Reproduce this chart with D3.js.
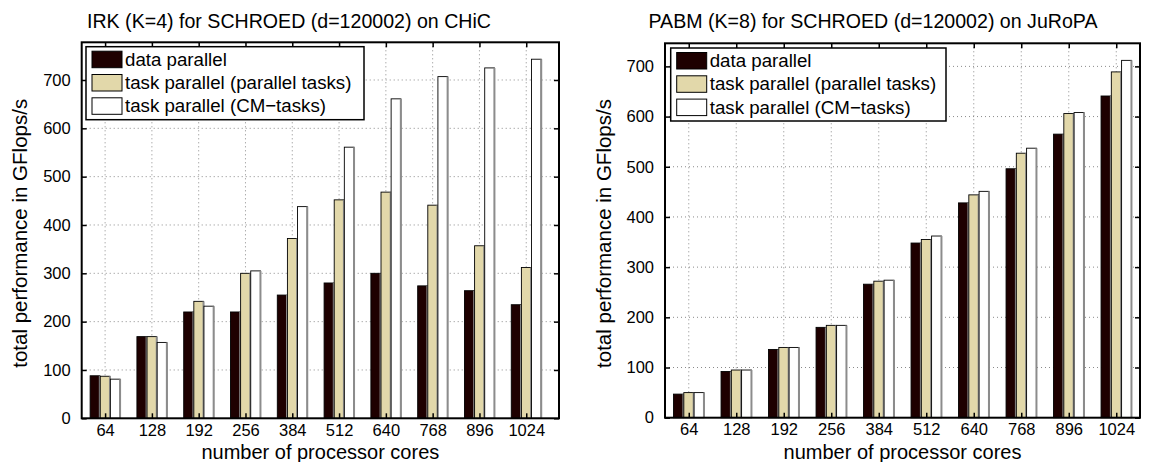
<!DOCTYPE html>
<html>
<head>
<meta charset="utf-8">
<script src="https://cdn.jsdelivr.net/npm/d3@7"></script>
<style>
  body { margin: 0; background: #fff; }
  svg { font-family: "Liberation Sans", Arial, sans-serif; }
</style>
</head>
<body>
<svg id="chart" width="1155" height="462"></svg>
<script>
// Categories and tick labels
var cores = ["64", "128", "192", "256", "384", "512", "640", "768", "896", "1024"];
var yTicks = [0, 100, 200, 300, 400, 500, 600, 700];
var seriesNames = ["data parallel", "task parallel (parallel tasks)", "task parallel (CM\u2212tasks)"];

// IRK on CHiC
var irkData = [88, 169, 220, 220, 255, 280, 300, 274, 264, 235];
var irkTask = [87, 169, 242, 300, 372, 452, 468, 441, 357, 312];
var irkCm = [81, 157, 232, 305, 438, 561, 661, 707, 725, 743];

// PABM on JuRoPA
var pabmData = [47, 92, 136, 180, 266, 348, 428, 496, 565, 641];
var pabmTask = [50, 95, 140, 184, 272, 355, 444, 527, 606, 689];
var pabmCm = [50, 95, 140, 184, 274, 362, 451, 537, 608, 712];

var fills = ["#1e0000", "#e2d8aa", "#ffffff"];

var svg = d3.select("#chart");

function drawPanel(opt) {
  var g = svg.append("g");

  var x = d3.scaleLinear().domain(opt.xDomain).range([opt.left, opt.right]);
  var y = d3.scaleLinear().domain([0, opt.yMax]).range([opt.bottom, opt.top]);
  var step = x(2) - x(1);

  // sub-position of each series inside a group (in index units)
  var sub = d3.scaleBand().domain([0, 1, 2]).range([-0.32, 0.32]).paddingInner(0.04);

  // Gridlines (dotted)
  g.append("g")
    .selectAll("line.vgrid")
    .data(d3.range(1, 11))
    .enter()
    .append("line")
    .attr("x1", function(d) { return x(d); })
    .attr("x2", function(d) { return x(d); })
    .attr("y1", opt.top)
    .attr("y2", opt.bottom)
    .attr("stroke", "#8a8a8a")
    .attr("stroke-width", 1)
    .attr("stroke-dasharray", "1,3");

  g.append("g")
    .selectAll("line.hgrid")
    .data(yTicks.slice(1))
    .enter()
    .append("line")
    .attr("x1", opt.left)
    .attr("x2", opt.right)
    .attr("y1", function(d) { return y(d); })
    .attr("y2", function(d) { return y(d); })
    .attr("stroke", "#8a8a8a")
    .attr("stroke-width", 1)
    .attr("stroke-dasharray", "1,3");

  // Bars
  opt.series.forEach(function(values, s) {
    var bw = sub.bandwidth() * step;
    var bars = g.append("g").selectAll("g").data(values).enter().append("g");
    bars.append("rect")
      .attr("x", function(d, i) { return x(i + 1 + sub(s)); })
      .attr("y", function(d) { return y(d); })
      .attr("width", bw)
      .attr("height", function(d) { return opt.bottom - y(d); })
      .attr("fill", fills[s])
      .attr("stroke", "#000")
      .attr("stroke-width", 0.9);
    // grey shadow edge on the right side
    bars.append("line")
      .attr("x1", function(d, i) { return x(i + 1 + sub(s)) + bw; })
      .attr("x2", function(d, i) { return x(i + 1 + sub(s)) + bw; })
      .attr("y1", function(d) { return y(d); })
      .attr("y2", opt.bottom)
      .attr("stroke", "#8c8c8c")
      .attr("stroke-width", 2);
  });

  // Axes with inward ticks
  var xAxis = d3.axisBottom(x)
    .tickValues(d3.range(1, 11))
    .tickFormat(function(d) { return cores[d - 1]; })
    .tickSizeInner(-5)
    .tickSizeOuter(0)
    .tickPadding(6);
  var gx = g.append("g")
    .attr("transform", "translate(0," + opt.bottom + ")")
    .call(xAxis);
  gx.selectAll("text").style("font-size", "16.5px").attr("fill", "#000");

  var yAxis = d3.axisLeft(y)
    .tickValues(yTicks)
    .tickSizeInner(-5)
    .tickSizeOuter(0)
    .tickPadding(11);
  var gy = g.append("g")
    .attr("transform", "translate(" + opt.left + ",0)")
    .call(yAxis);
  gy.selectAll("text").style("font-size", "16.5px").attr("fill", "#000");

  g.append("g")
    .attr("transform", "translate(0," + opt.top + ")")
    .call(d3.axisTop(x).tickValues(d3.range(1, 11)).tickSizeInner(-5).tickSizeOuter(0).tickFormat(""));
  g.append("g")
    .attr("transform", "translate(" + opt.right + ",0)")
    .call(d3.axisRight(y).tickValues(yTicks).tickSizeInner(-5).tickSizeOuter(0).tickFormat(""));

  g.selectAll(".domain").remove();
  g.selectAll(".tick line").attr("stroke", "#000").attr("stroke-width", 1.5);

  // Box
  g.append("rect")
    .attr("x", opt.left)
    .attr("y", opt.top)
    .attr("width", opt.right - opt.left)
    .attr("height", opt.bottom - opt.top)
    .attr("fill", "none")
    .attr("stroke", "#000")
    .attr("stroke-width", 2);

  // Legend
  var lg = g.append("g").attr("transform", "translate(" + opt.legendX + "," + opt.legendY + ")");
  lg.append("rect")
    .attr("width", opt.legendW)
    .attr("height", 73)
    .attr("fill", "#fff")
    .attr("stroke", "#000")
    .attr("stroke-width", 1.5);
  seriesNames.forEach(function(name, s) {
    lg.append("rect")
      .attr("x", 6)
      .attr("y", 4.5 + s * 23.3)
      .attr("width", 30)
      .attr("height", 16.5)
      .attr("fill", fills[s])
      .attr("stroke", "#000")
      .attr("stroke-width", 1);
    lg.append("text")
      .attr("x", 39)
      .attr("y", 19 + s * 23.3)
      .style("font-size", "18.7px")
      .text(name);
  });

  // Titles and labels
  g.append("text")
    .attr("x", opt.titleX)
    .attr("y", 28)
    .attr("text-anchor", "middle")
    .style("font-size", "19.6px")
    .text(opt.title);

  g.append("text")
    .attr("x", (opt.left + opt.right) / 2)
    .attr("y", 459)
    .attr("text-anchor", "middle")
    .style("font-size", "20px")
    .text("number of processor cores");

  g.append("text")
    .attr("transform", "translate(" + opt.yLabelX + "," + ((opt.top + opt.bottom) / 2 + 3) + ") rotate(-90)")
    .attr("text-anchor", "middle")
    .style("font-size", "20.5px")
    .text("total performance in GFlops/s");
}

drawPanel({
  series: [irkData, irkTask, irkCm],
  title: "IRK (K=4) for SCHROED (d=120002) on CHiC",
  titleX: 289,
  xDomain: [0.5, 10.7],
  left: 81.7, right: 559, top: 42.3, bottom: 418.3,
  yMax: 778,
  legendX: 86, legendY: 46.7, legendW: 278,
  yLabelX: 27
});

drawPanel({
  series: [pabmData, pabmTask, pabmCm],
  title: "PABM (K=8) for SCHROED (d=120002) on JuRoPA",
  titleX: 873,
  xDomain: [0.5, 10.5],
  left: 665, right: 1140, top: 43.3, bottom: 417.7,
  yMax: 746,
  legendX: 670.7, legendY: 48, legendW: 275.3,
  yLabelX: 611
});
</script>
</body>
</html>
